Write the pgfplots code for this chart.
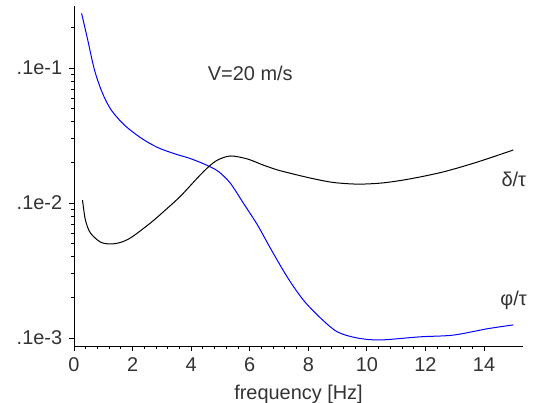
\documentclass[border=0pt]{standalone}
\usepackage{fontspec}
\setmainfont{Liberation Sans}
\usepackage{pgfplots}
\pgfplotsset{compat=1.18}

% phi/tau (blue)
\pgfplotstableread{
f v
0.26 0.0254
0.47 0.0161
0.70 0.00966
0.97 0.00653
1.27 0.00489
1.72 0.00378
2.29 0.00303
2.85 0.00258
3.45 0.00231
3.90 0.00216
4.31 0.00200
4.66 0.00185
4.95 0.00170
5.34 0.00140
5.78 0.00100
6.26 0.000690
6.70 0.000465
7.28 0.000283
7.83 0.000191
8.41 0.000141
8.99 0.000111
9.67 0.000100
10.46 0.0000967
11.82 0.000102
12.95 0.000105
14.11 0.000117
15.00 0.000125
}\phidata

% delta/tau (black)
\pgfplotstableread{
f v
0.29 0.00105
0.39 0.000748
0.56 0.000600
0.90 0.000514
1.24 0.000497
1.58 0.000510
1.95 0.000555
2.61 0.000711
3.05 0.000860
3.63 0.00112
4.21 0.00153
4.59 0.00185
4.90 0.00208
5.34 0.00223
5.92 0.00212
6.46 0.00191
6.94 0.00176
7.39 0.00166
8.07 0.00153
8.85 0.00142
9.70 0.00138
10.56 0.00141
11.48 0.00151
12.61 0.00170
13.77 0.00201
15.00 0.00247
}\deltadata

\begin{document}
\fontsize{20}{24}\selectfont
\begin{tikzpicture}
\path[use as bounding box] (-74bp,-57bp) rectangle (462bp,346bp);
\begin{axis}[
    scale only axis, width=449bp, height=340bp,
    at={(0,0)}, anchor=south west,
    xmin=0, xmax=15.33, ymin=8.72e-5, ymax=0.0288,
    ymode=log,
    axis x line=bottom, axis y line=left,
    axis line style={-, black, line width=0.8bp},
    tick style={black, line width=0.8bp},
    tick align=outside,
    major tick length=5bp, minor tick length=3bp,
    xtick={0,2,...,14}, minor x tick num=4,
    ytick={1e-4,1e-3,1e-2}, yticklabels={.1e-3,.1e-2,.1e-1},
    minor ytick={2e-4,3e-4,4e-4,5e-4,6e-4,7e-4,8e-4,9e-4,
                 2e-3,3e-3,4e-3,5e-3,6e-3,7e-3,8e-3,9e-3,2e-2},
    /pgf/number format/assume math mode=true,
    every tick label/.append style={font=\fontsize{20}{24}\selectfont, text=black!80},
    xlabel={frequency [Hz]},
    xlabel style={font=\fontsize{20}{24}\selectfont, text=black!80},
    clip=false,
]
\addplot[blue, line width=1bp, smooth, tension=0.5] table[x=f, y=v] {\phidata};
\addplot[black, line width=1bp, smooth, tension=0.5] table[x=f, y=v] {\deltadata};
\node[text=black!80] at (axis cs:6.02,0.0092) {V=20 m/s};
\node[anchor=base west, inner sep=0, text=black!80] at (axis cs:14.59,0.001336) {δ/τ};
\node[anchor=base west, inner sep=0, text=black!80] at (axis cs:14.55,0.000175) {φ/τ};
\end{axis}
\end{tikzpicture}
\end{document}
